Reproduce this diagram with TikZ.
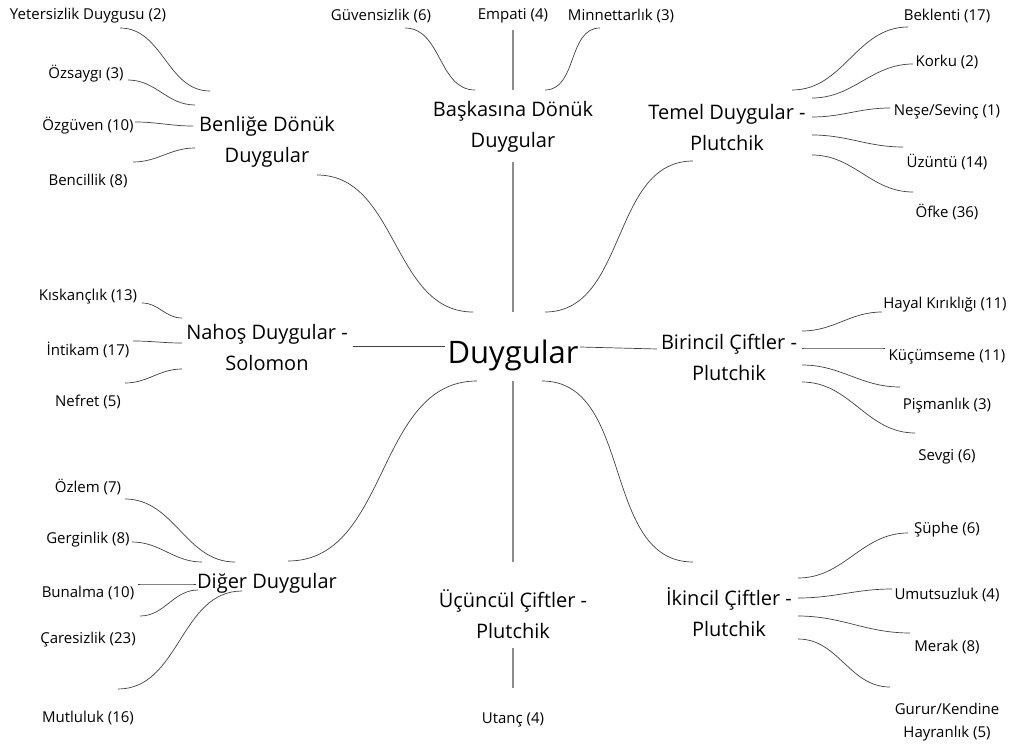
\documentclass[tikz,border=0pt]{standalone}
\usepackage{fontspec}
\setmainfont{Open Sans}

\begin{document}
\begin{tikzpicture}[x=1pt, y=-1pt,
    root/.style={inner sep=0pt, font=\fontsize{31}{36}\selectfont},
    hub/.style={inner sep=0pt, align=center, font=\fontsize{20}{31}\selectfont},
    leaf/.style={inner sep=0pt, align=center, font=\fontsize{15}{23}\selectfont},
    link/.style={draw=black!75, line width=0.7pt},
    stem/.style={draw=black!45, line width=1.4pt}]

        \useasboundingbox (0,0) rectangle (1017,749);

        % Centre
        \node[root] (duy) at (513,355) {Duygular};

        % Main branches
        \node[hub] (ben) at (267,142) {Benliğe Dönük\\Duygular};
        \node[hub] (bas) at (513,127) {Başkasına Dönük\\Duygular};
        \node[hub] (tem) at (727,127) {Temel Duygular -\\Plutchik};
        \node[hub] (nah) at (267,347) {Nahoş Duygular -\\Solomon};
        \node[hub] (bir) at (729,357) {Birincil Çiftler -\\Plutchik};
        \node[hub] (dig) at (267,583) {Diğer Duygular};
        \node[hub] (ucu) at (513,614) {Üçüncül Çiftler -\\Plutchik};
        \node[hub] (iki) at (729,612) {İkincil Çiftler -\\Plutchik};

        % Leaves
        \node[leaf] (yet) at (88,16) {Yetersizlik Duygusu (2)};
        \node[leaf] (ozs) at (86,74) {Özsaygı (3)};
        \node[leaf] (ozg) at (88,126) {Özgüven (10)};
        \node[leaf] (bnc) at (88,181) {Bencillik (8)};

        \node[leaf] (guv) at (381,16) {Güvensizlik (6)};
        \node[leaf] (emp) at (513,16) {Empati (4)};
        \node[leaf] (min) at (621,16) {Minnettarlık (3)};

        \node[leaf] (bek) at (947,16) {Beklenti (17)};
        \node[leaf] (kor) at (947,62) {Korku (2)};
        \node[leaf] (nes) at (947,112) {Neşe/Sevinç (1)};
        \node[leaf] (uzu) at (947,162) {Üzüntü (14)};
        \node[leaf] (ofk) at (947,212) {Öfke (36)};

        \node[leaf] (kis) at (88,297) {Kıskançlık (13)};
        \node[leaf] (int) at (88,350) {İntikam (17)};
        \node[leaf] (nef) at (88,402) {Nefret (5)};

        \node[leaf] (hay) at (945,305) {Hayal Kırıklığı (11)};
        \node[leaf] (kuc) at (947,357) {Küçümseme (11)};
        \node[leaf] (pis) at (947,406) {Pişmanlık (3)};
        \node[leaf] (sev) at (947,457) {Sevgi (6)};

        \node[leaf] (ozl) at (88,487) {Özlem (7)};
        \node[leaf] (ger) at (88,540) {Gerginlik (8)};
        \node[leaf] (bun) at (88,593) {Bunalma (10)};
        \node[leaf] (car) at (88,640) {Çaresizlik (23)};
        \node[leaf] (mut) at (88,718) {Mutluluk (16)};

        \node[leaf] (uta) at (513,720) {Utanç (4)};

        \node[leaf] (sup) at (947,530) {Şüphe (6)};
        \node[leaf] (umu) at (947,595) {Umutsuzluk (4)};
        \node[leaf] (mer) at (947,647) {Merak (8)};
        \node[leaf] (gur) at (947,722) {Gurur/Kendine\\Hayranlık (5)};

        % Centre to branches
        \draw[link] ([shift={(50,33)}]ben.center) to[out=0,in=180] ([shift={(-40,-43)}]duy.center);
        \draw[stem] ([shift={(0,35)}]bas.center) -- ([shift={(0,-43)}]duy.center);
        \draw[link] ([shift={(-34,34)}]tem.center) to[out=180,in=0] ([shift={(32,-43)}]duy.center);
        \draw[link] ([shift={(86,-1)}]nah.center) -- ([shift={(-68,-9)}]duy.center);
        \draw[link] ([shift={(-72,-8)}]bir.center) -- ([shift={(67,-8)}]duy.center);
        \draw[link] ([shift={(21,-22)}]dig.center) to[out=0,in=180] ([shift={(-36,26)}]duy.center);
        \draw[stem] ([shift={(0,-52)}]ucu.center) -- ([shift={(0,26)}]duy.center);
        \draw[link] ([shift={(-36,-50)}]iki.center) to[out=180,in=0] ([shift={(29,26)}]duy.center);

        % Benlige Donuk Duygular
        \draw[link] ([shift={(32,12)}]yet.center) to[out=0,in=180] ([shift={(-57,-51)}]ben.center);
        \draw[link] ([shift={(42,6)}]ozs.center) to[out=0,in=180] ([shift={(-72,-37)}]ben.center);
        \draw[link] ([shift={(47,-4)}]ozg.center) to[out=0,in=180] ([shift={(-74,-16)}]ben.center);
        \draw[link] ([shift={(45,-19)}]bnc.center) to[out=0,in=180] ([shift={(-72,6)}]ben.center);

        % Baskasina Donuk Duygular
        \draw[link] ([shift={(24,12)}]guv.center) to[out=0,in=180] ([shift={(-38,-37)}]bas.center);
        \draw[stem] ([shift={(0,14)}]emp.center) -- ([shift={(0,-37)}]bas.center);
        \draw[link] ([shift={(-21,12)}]min.center) to[out=180,in=0] ([shift={(32,-37)}]bas.center);

        % Temel Duygular
        \draw[link] ([shift={(-39,11)}]bek.center) to[out=180,in=0] ([shift={(65,-37)}]tem.center);
        \draw[link] ([shift={(-34,2)}]kor.center) to[out=180,in=0] ([shift={(85,-29)}]tem.center);
        \draw[link] ([shift={(-57,-4)}]nes.center) to[out=180,in=0] ([shift={(85,-10)}]tem.center);
        \draw[link] ([shift={(-44,-15)}]uzu.center) to[out=180,in=0] ([shift={(85,8)}]tem.center);
        \draw[link] ([shift={(-34,-20)}]ofk.center) to[out=180,in=0] ([shift={(85,28)}]tem.center);

        % Nahos Duygular
        \draw[link] ([shift={(54,6)}]kis.center) to[out=0,in=180] ([shift={(-85,-29)}]nah.center);
        \draw[link] ([shift={(45,-9)}]int.center) to[out=0,in=180] ([shift={(-85,-4)}]nah.center);
        \draw[link] ([shift={(37,-19)}]nef.center) to[out=0,in=180] ([shift={(-85,22)}]nah.center);

        % Birincil Ciftler
        \draw[link] ([shift={(-63,7)}]hay.center) to[out=180,in=0] ([shift={(73,-26)}]bir.center);
        \draw[link] ([shift={(-62,-9)}]kuc.center) to[out=180,in=0] ([shift={(73,-9)}]bir.center);
        \draw[link] ([shift={(-47,-19)}]pis.center) to[out=180,in=0] ([shift={(73,8)}]bir.center);
        \draw[link] ([shift={(-32,-24)}]sev.center) to[out=180,in=0] ([shift={(73,25)}]bir.center);

        % Diger Duygular
        \draw[link] ([shift={(37,12)}]ozl.center) to[out=0,in=180] ([shift={(-32,-21)}]dig.center);
        \draw[link] ([shift={(44,2)}]ger.center) to[out=0,in=180] ([shift={(-65,-21)}]dig.center);
        \draw[link] ([shift={(50,-9)}]bun.center) to[out=0,in=180] ([shift={(-71,1)}]dig.center);
        \draw[link] ([shift={(52,-24)}]car.center) to[out=0,in=180] ([shift={(-69,7)}]dig.center);
        \draw[link] ([shift={(30,-29)}]mut.center) to[out=0,in=180] ([shift={(-25,8)}]dig.center);

        % Ucuncul Ciftler
        \draw[stem] ([shift={(0,34)}]ucu.center) -- ([shift={(0,-32)}]uta.center);

        % Ikincil Ciftler
        \draw[link] ([shift={(-39,3)}]sup.center) to[out=180,in=0] ([shift={(69,-34)}]iki.center);
        \draw[link] ([shift={(-55,-6)}]umu.center) to[out=180,in=0] ([shift={(69,-14)}]iki.center);
        \draw[link] ([shift={(-37,-14)}]mer.center) to[out=180,in=0] ([shift={(69,4)}]iki.center);
        \draw[link] ([shift={(-57,-35)}]gur.center) to[out=180,in=0] ([shift={(69,27)}]iki.center);
    \end{tikzpicture}
\end{document}
